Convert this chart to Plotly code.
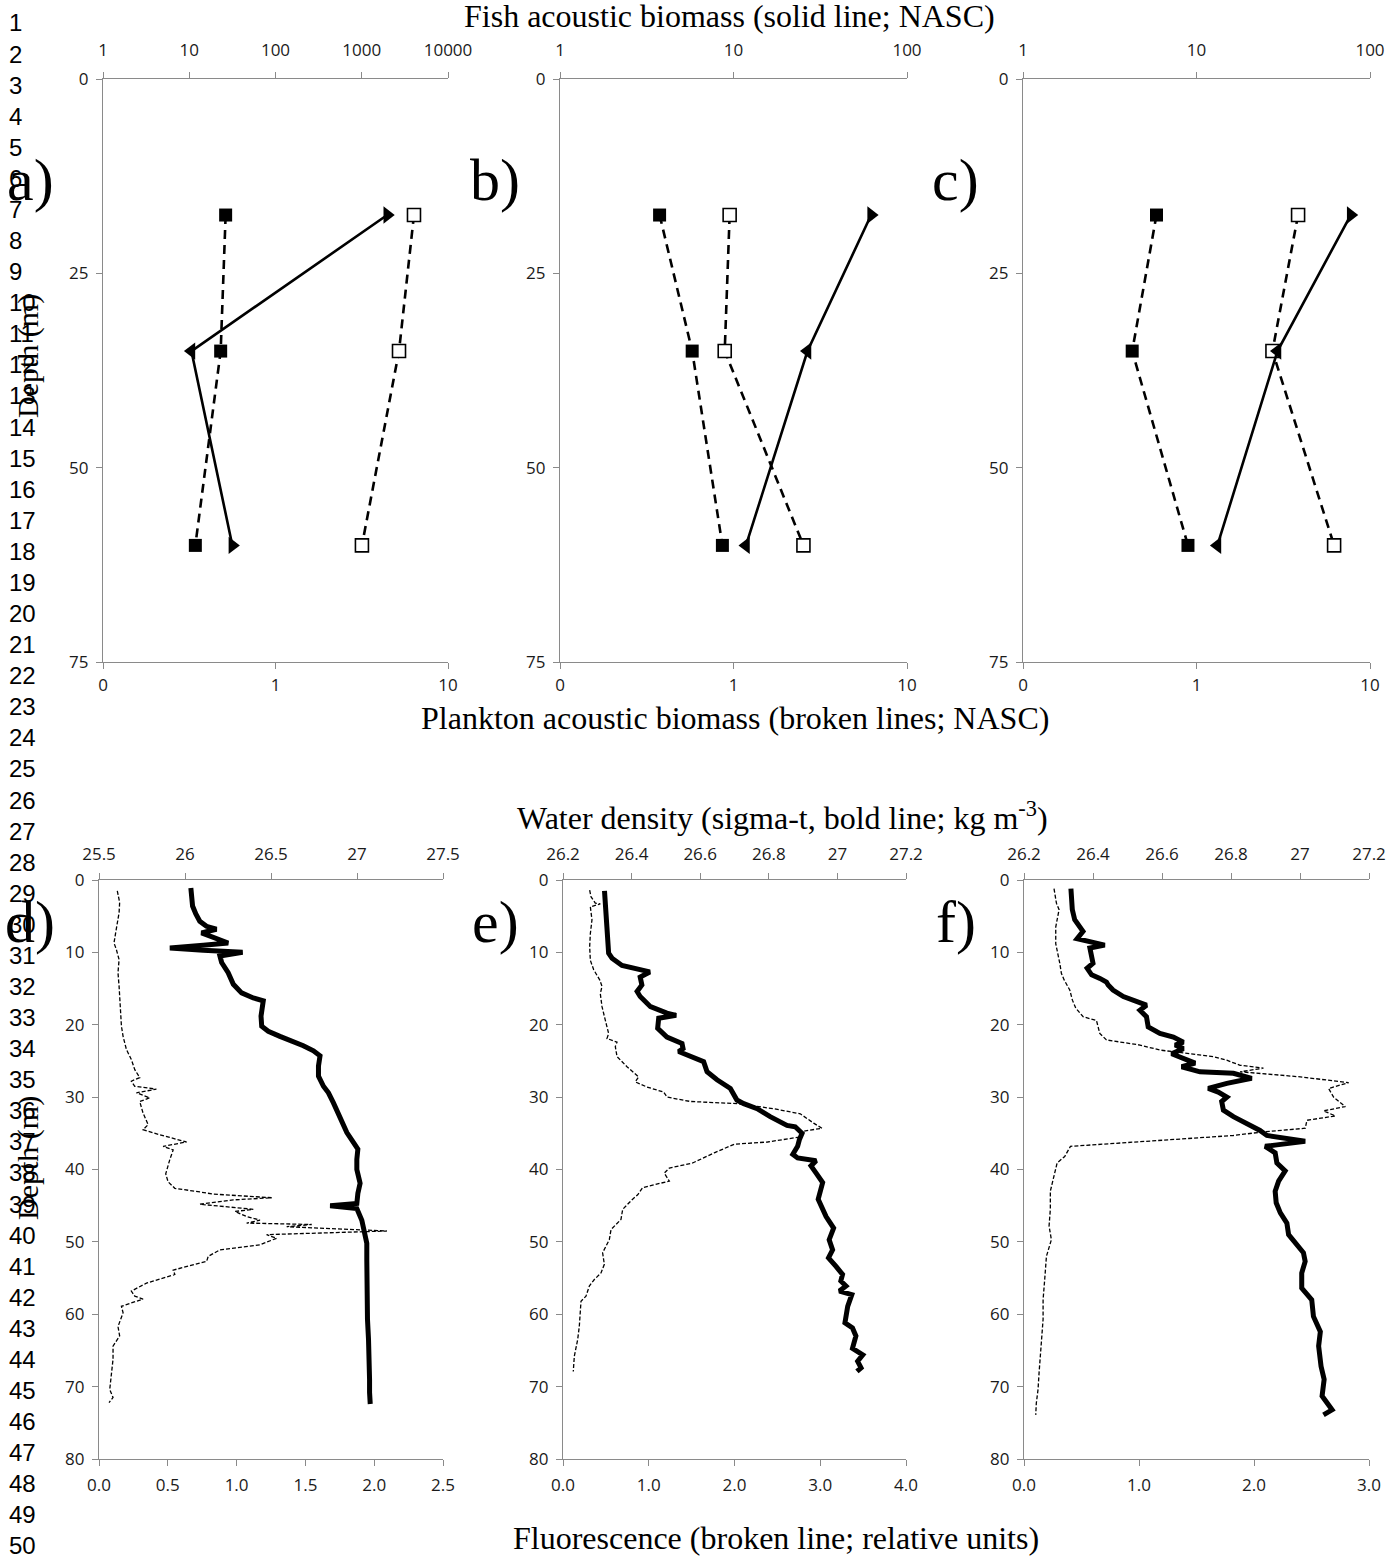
import plotly.graph_objects as go

W, H = 1397, 1556

# ---------------- acoustic biomass profiles (NASC) ----------------
DEPTH_NASC = [17.5, 35, 60]

FISH_A = [1974, 10.6, 31.6]
PLANKTON_FILLED_A = [0.514, 0.481, 0.343]
PLANKTON_OPEN_A = [6.35, 5.2, 3.17]

FISH_B = [62.1, 26.7, 11.8]
PLANKTON_FILLED_B = [0.375, 0.578, 0.863]
PLANKTON_OPEN_B = [0.95, 0.89, 2.53]

FISH_C = [77.4, 29.3, 13.2]
PLANKTON_FILLED_C = [0.588, 0.426, 0.893]
PLANKTON_OPEN_C = [3.85, 2.74, 6.21]

# ---------------- CTD profiles ----------------
DEPTH_SIGMA_D = [1.1, 3.6, 4.7, 5.7, 6.4, 6.8, 7.3, 8.0, 8.7, 9.0, 9.4, 9.7, 10.0, 10.5, 11.4,
                 12.8, 14.4, 15.6, 16.3, 16.7, 17.4, 18.8, 20.2, 20.9, 21.6, 22.3, 22.9, 23.6,
                 24.3, 25.7, 27.1, 28.5, 29.4, 30.8, 32.2, 33.5, 34.9, 36.3, 37.2, 38.6, 40.0,
                 41.4, 41.9, 43.3, 44.7, 45.0, 45.4, 47.0, 48.6, 50.2, 52.5, 55.2, 58.0, 60.7,
                 63.5, 66.2, 69.0, 70.8, 72.4]
SIGMA_D = [26.034, 26.044, 26.063, 26.086, 26.125, 26.183, 26.096, 26.183, 26.251, 26.106,
           25.912, 26.106, 26.335, 26.203, 26.213, 26.251, 26.281, 26.329, 26.397, 26.455,
           26.451, 26.442, 26.446, 26.484, 26.552, 26.630, 26.688, 26.747, 26.785, 26.776,
           26.776, 26.805, 26.834, 26.863, 26.892, 26.912, 26.941, 26.980, 27.005, 26.999,
           26.999, 27.013, 27.018, 27.005, 26.999, 26.844, 26.999, 27.028, 27.042, 27.057,
           27.057, 27.057, 27.061, 27.061, 27.067, 27.073, 27.073, 27.073, 27.077]

DEPTH_FLUOR_D = [1.5, 3.1, 4.5, 5.9, 7.3, 8.7, 9.6, 11.0, 12.8, 14.7, 16.5, 18.3, 20.2, 21.6,
                 23.4, 24.8, 26.2, 27.3, 27.8, 28.5, 28.9, 29.4, 30.1, 30.6, 32.2, 33.8, 34.5,
                 35.2, 36.2, 36.8, 37.3, 38.6, 40.6, 41.7, 42.6, 43.1, 43.4, 43.9, 44.2, 44.8,
                 45.1, 45.5, 45.8, 46.5, 47.0, 47.4, 47.6, 47.9, 48.5, 49.0, 49.5, 50.4, 51.1,
                 52.0, 52.7, 53.9, 54.5, 55.7, 56.8, 57.5, 57.9, 58.9, 59.8, 61.7, 63.0, 64.4,
                 66.2, 68.5, 70.4, 71.5, 72.2]
FLUOR_D = [0.133, 0.150, 0.146, 0.131, 0.121, 0.109, 0.126, 0.146, 0.138, 0.146, 0.150, 0.158,
           0.163, 0.175, 0.199, 0.235, 0.260, 0.296, 0.235, 0.260, 0.417, 0.272, 0.369, 0.296,
           0.320, 0.357, 0.320, 0.442, 0.636, 0.466, 0.539, 0.515, 0.485, 0.502, 0.551, 0.733,
           0.830, 1.255, 0.976, 0.733, 0.879, 1.121, 0.988, 1.073, 1.170, 1.073, 1.546, 1.364,
           2.092, 1.218, 1.291, 1.170, 0.879, 0.794, 0.782, 0.539, 0.551, 0.345, 0.235, 0.260,
           0.320, 0.163, 0.175, 0.138, 0.150, 0.102, 0.102, 0.090, 0.078, 0.102, 0.073]

DEPTH_SIGMA_E = [1.5, 3.7, 6.5, 10.1, 10.8, 11.8, 12.4, 12.7, 13.4, 14.5, 15.4, 16.1, 17.5, 18.4,
                 18.7, 19.1, 20.5, 21.7, 22.6, 23.3, 23.7, 24.2, 25.1, 26.5, 27.6, 28.8, 29.5,
                 30.4, 30.9, 31.6, 32.7, 33.9, 34.1, 35.0, 35.9, 36.8, 37.9, 38.4, 38.8, 39.5,
                 40.5, 41.8, 44.1, 45.1, 46.5, 48.1, 49.7, 51.1, 52.2, 53.4, 54.5, 55.4, 56.1,
                 56.8, 57.3, 58.9, 61.2, 61.9, 63.0, 64.7, 65.6, 66.5, 67.4, 67.9]
SIGMA_E = [26.321, 26.325, 26.328, 26.333, 26.343, 26.372, 26.425, 26.453, 26.425, 26.430,
           26.416, 26.425, 26.455, 26.503, 26.530, 26.479, 26.476, 26.503, 26.547, 26.550,
           26.537, 26.562, 26.610, 26.620, 26.649, 26.688, 26.698, 26.707, 26.727, 26.766,
           26.804, 26.853, 26.877, 26.897, 26.889, 26.884, 26.870, 26.884, 26.938, 26.923,
           26.938, 26.957, 26.944, 26.952, 26.967, 26.989, 26.976, 26.986, 26.974, 26.996,
           27.015, 27.010, 27.025, 27.006, 27.042, 27.030, 27.022, 27.044, 27.054, 27.044,
           27.074, 27.059, 27.069, 27.057]

DEPTH_FLUOR_E = [1.4, 2.3, 3.2, 3.3, 3.7, 5.5, 7.4, 9.2, 11.1, 12.4, 13.8, 14.7, 15.7, 17.5,
                 19.4, 21.2, 21.9, 22.4, 23.0, 24.4, 25.8, 27.2, 27.9, 28.6, 29.3, 30.0, 30.6,
                 30.9, 31.6, 32.3, 33.6, 34.3, 34.7, 35.5, 36.2, 36.5, 37.7, 38.2, 38.6, 39.1,
                 39.8, 40.5, 41.6, 42.5, 43.5, 44.1, 45.5, 46.9, 48.3, 49.7, 51.5, 53.1, 54.3,
                 55.2, 56.1, 57.5, 58.2, 59.8, 61.7, 63.5, 65.8, 67.9]
FLUOR_E = [0.311, 0.326, 0.377, 0.435, 0.319, 0.338, 0.319, 0.311, 0.319, 0.358, 0.428, 0.455,
           0.435, 0.455, 0.494, 0.532, 0.513, 0.630, 0.610, 0.630, 0.746, 0.882, 0.843, 0.979,
           1.174, 1.213, 1.485, 2.029, 2.456, 2.767, 2.923, 3.020, 2.806, 2.767, 2.386, 1.998,
           1.764, 1.667, 1.609, 1.512, 1.240, 1.181, 1.240, 0.929, 0.871, 0.812, 0.696, 0.676,
           0.560, 0.540, 0.462, 0.482, 0.443, 0.365, 0.307, 0.268, 0.210, 0.202, 0.190, 0.171,
           0.132, 0.120]

DEPTH_SIGMA_F = [1.2, 2.8, 4.1, 5.5, 6.7, 7.1, 8.1, 8.5, 9.0, 9.4, 10.6, 11.5, 12.2, 13.1, 13.6,
                 14.1, 14.5, 15.2, 16.1, 16.8, 17.3, 18.0, 18.9, 20.3, 21.2, 21.7, 22.4, 22.8,
                 23.3, 24.0, 24.7, 25.3, 25.8, 26.5, 26.7, 27.4, 28.1, 28.8, 29.3, 30.0, 30.6,
                 31.8, 32.7, 33.6, 34.6, 35.3, 35.7, 36.1, 36.6, 36.8, 37.7, 39.1, 40.2, 41.6,
                 43.0, 44.6, 46.0, 47.4, 49.0, 50.1, 51.5, 52.7, 54.3, 56.4, 58.0, 60.3, 62.4,
                 64.4, 67.2, 69.0, 71.3, 73.2, 73.9]
SIGMA_F = [26.336, 26.337, 26.340, 26.347, 26.362, 26.371, 26.354, 26.391, 26.434, 26.391,
           26.396, 26.400, 26.383, 26.396, 26.420, 26.439, 26.444, 26.458, 26.488, 26.531,
           26.555, 26.536, 26.555, 26.560, 26.594, 26.633, 26.662, 26.638, 26.662, 26.628,
           26.662, 26.696, 26.657, 26.710, 26.807, 26.860, 26.788, 26.734, 26.763, 26.788,
           26.773, 26.778, 26.807, 26.846, 26.884, 26.904, 26.952, 27.015, 26.933, 26.899,
           26.928, 26.933, 26.957, 26.938, 26.928, 26.931, 26.943, 26.962, 26.967, 26.986,
           27.010, 27.015, 27.005, 27.005, 27.034, 27.039, 27.059, 27.054, 27.061, 27.070,
           27.064, 27.093, 27.068]

DEPTH_FLUOR_F = [1.2, 3.2, 4.1, 6.5, 8.8, 10.1, 11.5, 12.9, 13.8, 15.2, 16.6, 17.7, 18.9, 19.4,
                 20.3, 21.2, 22.1, 22.8, 23.5, 24.0, 24.4, 24.9, 25.6, 26.0, 26.5, 27.2, 28.0,
                 28.8, 30.0, 31.3, 31.9, 32.6, 33.2, 34.3, 34.8, 35.3, 35.9, 36.8, 38.2, 39.1,
                 41.4, 43.0, 45.5, 47.8, 49.7, 52.0, 55.2, 58.0, 60.7, 63.5, 65.8, 68.1, 70.4,
                 72.3, 73.9]
FLUOR_F = [0.261, 0.282, 0.305, 0.276, 0.276, 0.296, 0.311, 0.325, 0.349, 0.398, 0.421, 0.450,
           0.514, 0.630, 0.645, 0.659, 0.717, 1.008, 1.182, 1.414, 1.647, 1.763, 1.879, 2.082,
           1.879, 2.402, 2.823, 2.649, 2.692, 2.794, 2.605, 2.707, 2.460, 2.446, 2.082, 1.821,
           1.240, 0.404, 0.354, 0.288, 0.253, 0.229, 0.229, 0.218, 0.238, 0.195, 0.180, 0.166,
           0.166, 0.151, 0.137, 0.131, 0.122, 0.107, 0.102]

# ---------------- axis ticks ----------------
NASC_FISH_TICKS_A = [1, 10, 100, 1000, 10000]
NASC_FISH_TICKS_BC = [1, 10, 100]
NASC_PLANKTON_TICKS = [0.1, 1, 10]
NASC_PLANKTON_LABELS = ["0", "1", "10"]
DEPTH_TICKS_TOP = [0, 25, 50, 75]
DEPTH_TICKS_BOTTOM = [0, 10, 20, 30, 40, 50, 60, 70, 80]
SIGMA_TICKS_D = [25.5, 26, 26.5, 27, 27.5]
SIGMA_LABELS_D = ["25.5", "26", "26.5", "27", "27.5"]
SIGMA_TICKS_EF = [26.2, 26.4, 26.6, 26.8, 27.0, 27.2]
SIGMA_LABELS_EF = ["26.2", "26.4", "26.6", "26.8", "27", "27.2"]
FLUOR_TICKS_D = [0, 0.5, 1.0, 1.5, 2.0, 2.5]
FLUOR_TICKS_E = [0, 1, 2, 3, 4]
FLUOR_TICKS_F = [0, 1, 2, 3]

AXIS_GREY = "#8a8a8a"
TICK_FONT = dict(family="Open Sans", size=17, color="#1a1a1a")
SERIF = "Liberation Serif"


def px(x):
    return x / W


def py(y):
    return 1 - y / H


fig = go.Figure()
layout = dict(width=W, height=H, margin=dict(l=0, r=0, t=0, b=0, autoexpand=False),
              paper_bgcolor="white", plot_bgcolor="white", showlegend=False)


def axis_style(**kw):
    base = dict(showgrid=False, zeroline=False, showline=True, linecolor=AXIS_GREY,
                linewidth=1.3, ticks="outside", ticklen=6, tickcolor=AXIS_GREY,
                tickwidth=1.3, tickfont=TICK_FONT, fixedrange=True, automargin=False)
    base.update(kw)
    return base


def add_panel(idx, left, right, top, bottom, y_range, y_ticks,
              bx, tx, bottom_standoff, top_standoff):
    """Create a y-axis plus a bottom and an overlaid top x-axis for one panel."""
    nb, nt, ny = 2 * idx + 1, 2 * idx + 2, idx + 1
    kb = "xaxis" if nb == 1 else f"xaxis{nb}"
    kt = f"xaxis{nt}"
    ky = "yaxis" if ny == 1 else f"yaxis{ny}"
    rb = "x" if nb == 1 else f"x{nb}"
    rt = f"x{nt}"
    ry = "y" if ny == 1 else f"y{ny}"
    layout[kb] = axis_style(domain=[px(left), px(right)], anchor=ry, side="bottom",
                            ticklabelstandoff=bottom_standoff, **bx)
    layout[kt] = axis_style(domain=[px(left), px(right)], anchor=ry, side="top",
                            overlaying=rb, ticklabelstandoff=top_standoff, **tx)
    layout[ky] = axis_style(domain=[py(bottom), py(top)], anchor=rb, range=y_range,
                            tickmode="array", tickvals=y_ticks,
                            ticktext=[str(t) for t in y_ticks], ticklabelstandoff=4)
    return rb, rt, ry


def arrow_symbols(values):
    syms = ["triangle-right"]
    for prev, cur in zip(values[:-1], values[1:]):
        syms.append("triangle-right" if cur >= prev else "triangle-left")
    return syms


# ---------------- top row: acoustic biomass ----------------
TOP_Y0, TOP_Y1 = 79, 662
top_panels = [
    (103, 448, [0, 4], NASC_FISH_TICKS_A, FISH_A, PLANKTON_FILLED_A, PLANKTON_OPEN_A),
    (560, 907, [0, 2], NASC_FISH_TICKS_BC, FISH_B, PLANKTON_FILLED_B, PLANKTON_OPEN_B),
    (1023, 1370, [0, 2], NASC_FISH_TICKS_BC, FISH_C, PLANKTON_FILLED_C, PLANKTON_OPEN_C),
]
for i, (l, r, frange, fticks, fish, pfill, popen) in enumerate(top_panels):
    bx = dict(type="log", range=[-1, 1], tickmode="array", tickvals=NASC_PLANKTON_TICKS,
              ticktext=NASC_PLANKTON_LABELS)
    tx = dict(type="log", range=frange, tickmode="array", tickvals=fticks,
              ticktext=[str(t) for t in fticks])
    rb, rt, ry = add_panel(i, l, r, TOP_Y0, TOP_Y1, [75, 0], DEPTH_TICKS_TOP, bx, tx, 1, 9)
    fig.add_trace(go.Scatter(x=fish, y=DEPTH_NASC, xaxis=rt, yaxis=ry, mode="lines+markers",
                             line=dict(color="black", width=2.6),
                             marker=dict(symbol=arrow_symbols(fish), size=15, color="black")))
    fig.add_trace(go.Scatter(x=pfill, y=DEPTH_NASC, xaxis=rb, yaxis=ry, mode="lines+markers",
                             line=dict(color="black", width=2.6, dash="9px,6px"),
                             marker=dict(symbol="square", size=13, color="black")))
    fig.add_trace(go.Scatter(x=popen, y=DEPTH_NASC, xaxis=rb, yaxis=ry, mode="lines+markers",
                             line=dict(color="black", width=2.6, dash="9px,6px"),
                             marker=dict(symbol="square", size=13, color="white",
                                         line=dict(color="black", width=1.6))))

# ---------------- bottom row: density and fluorescence ----------------
BOT_Y0, BOT_Y1 = 880, 1459
bottom_panels = [
    (99, 443, [25.5, 27.5], SIGMA_TICKS_D, SIGMA_LABELS_D, [0, 2.5], FLUOR_TICKS_D,
     DEPTH_SIGMA_D, SIGMA_D, DEPTH_FLUOR_D, FLUOR_D),
    (563, 906, [26.2, 27.2], SIGMA_TICKS_EF, SIGMA_LABELS_EF, [0, 4], FLUOR_TICKS_E,
     DEPTH_SIGMA_E, SIGMA_E, DEPTH_FLUOR_E, FLUOR_E),
    (1024, 1369, [26.2, 27.2], SIGMA_TICKS_EF, SIGMA_LABELS_EF, [0, 3], FLUOR_TICKS_F,
     DEPTH_SIGMA_F, SIGMA_F, DEPTH_FLUOR_F, FLUOR_F),
]
for j, (l, r, srange, sticks, slabels, frange, fticks, ds, sig, dfl, flu) in enumerate(bottom_panels):
    bx = dict(range=frange, tickmode="array", tickvals=fticks,
              ticktext=[f"{t:.1f}" for t in fticks])
    tx = dict(range=srange, tickmode="array", tickvals=sticks, ticktext=slabels)
    rb, rt, ry = add_panel(j + 3, l, r, BOT_Y0, BOT_Y1, [80, 0], DEPTH_TICKS_BOTTOM,
                           bx, tx, 4, 6)
    fig.add_trace(go.Scatter(x=flu, y=dfl, xaxis=rb, yaxis=ry, mode="lines",
                             line=dict(color="black", width=1.3, dash="4px,2px")))
    fig.add_trace(go.Scatter(x=sig, y=ds, xaxis=rt, yaxis=ry, mode="lines",
                             line=dict(color="black", width=5)))

# ---------------- text ----------------
ann = []
for n in range(1, 51):
    ann.append(dict(text=str(n), x=px(7), y=py(23 + (n - 1) * 31.08), xref="paper",
                    yref="paper", xanchor="left", yanchor="middle", showarrow=False,
                    font=dict(family="Liberation Sans", size=24, color="black")))

titles = [
    ("Fish acoustic biomass (solid line; NASC)", 729, 16),
    ("Plankton acoustic biomass (broken lines; NASC)", 735, 718),
    ("Water density (sigma-t, bold line; kg m<sup>-3</sup>)", 782, 816),
    ("Fluorescence (broken line; relative units)", 776, 1538),
]
for t, x, y in titles:
    ann.append(dict(text=t, x=px(x), y=py(y), xref="paper", yref="paper",
                    xanchor="center", yanchor="middle", showarrow=False,
                    font=dict(family=SERIF, size=32, color="black")))

letters = [("a)", 30, 180), ("b)", 495, 180), ("c)", 956, 180),
           ("d)", 30, 922), ("e)", 495, 922), ("f)", 956, 922)]
for t, x, y in letters:
    ann.append(dict(text=t, x=px(x), y=py(y), xref="paper", yref="paper",
                    xanchor="center", yanchor="middle", showarrow=False,
                    font=dict(family=SERIF, size=60, color="black")))

for y in (356, 1158):
    ann.append(dict(text="Depth (m)", x=px(28), y=py(y), xref="paper", yref="paper",
                    xanchor="center", yanchor="middle", showarrow=False, textangle=-90,
                    font=dict(family=SERIF, size=30, color="black")))

layout["annotations"] = ann
fig.update_layout(**layout)
fig.write_html("out.html")
